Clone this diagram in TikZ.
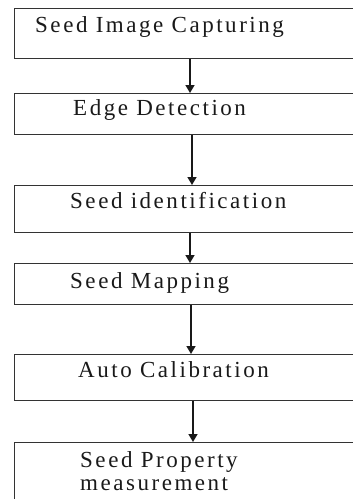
\documentclass[tikz,border=0pt]{standalone}
\usepackage{fontspec}
\setmainfont{Liberation Serif}[LetterSpace=11]
\usetikzlibrary{arrows.meta}
\begin{document}
\begin{tikzpicture}[x=1pt,y=-1pt,
  stagebox/.style={draw=black!80,line width=1.2pt,rectangle,anchor=north west,
    minimum width=360pt,inner sep=0pt},
  stagetext/.style={anchor=base west,inner sep=0pt,font=\fontsize{23}{23}\selectfont,
    align=left,text=black!90},
  flow/.style={draw=black!90,line width=1.5pt,-{Triangle[length=8pt,width=9pt]}}]
\useasboundingbox (0,0) rectangle (353,499);
\clip (0,0) rectangle (353,499);
% process stages
\node[stagebox,minimum height=50pt] (b1) at (14,8) {};
\node[stagebox,minimum height=41pt] (b2) at (14,93) {};
\node[stagebox,minimum height=47pt] (b3) at (14,185) {};
\node[stagebox,minimum height=41pt] (b4) at (14,263) {};
\node[stagebox,minimum height=46pt] (b5) at (14,354) {};
\node[stagebox,minimum height=80pt] (b6) at (14,442) {};
% stage labels (base anchor of a two-line label is its last line)
\node[stagetext] (t1) at (35,32) {Seed Image Capturing};
\node[stagetext] (t2) at (73,115) {Edge Detection};
\node[stagetext] (t3) at (70,208) {Seed identification};
\node[stagetext] (t4) at (70,288) {Seed Mapping};
\node[stagetext] (t5) at (78,377) {Auto Calibration};
\node[stagetext] (t6) at (80,490) {Seed Property\\measurement};
% flow arrows
\coordinate (ax1) at (190,0);
\coordinate (ax2) at (192,0);
\coordinate (ax3) at (190,0);
\coordinate (ax4) at (191,0);
\coordinate (ax5) at (193,0);
\draw[flow] (b1.south -| ax1) -- (b2.north -| ax1);
\draw[flow] (b2.south -| ax2) -- (b3.north -| ax2);
\draw[flow] (b3.south -| ax3) -- (b4.north -| ax3);
\draw[flow] (b4.south -| ax4) -- (b5.north -| ax4);
\draw[flow] (b5.south -| ax5) -- (b6.north -| ax5);
\end{tikzpicture}
\end{document}
